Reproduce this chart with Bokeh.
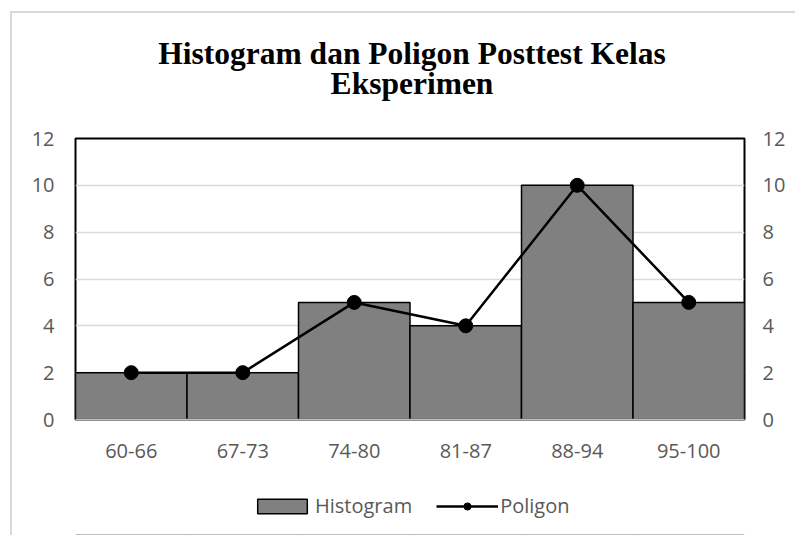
from bokeh.plotting import figure
from bokeh.layouts import column
from bokeh.models import (ColumnDataSource, LinearAxis, Range1d, Legend, Label,
                          LegendItem, FixedTicker, FactorRange)
from bokeh.embed import file_html
from bokeh.resources import INLINE

categories = ["60-66", "67-73", "74-80", "81-87", "88-94", "95-100"]
frequencies = [2, 2, 5, 4, 10, 5]
y_ticks = [0, 2, 4, 6, 8, 10, 12]
title_lines = ["Histogram dan Poligon Posttest Kelas", "Eksperimen"]
legend_labels = ["Histogram", "Poligon"]

src = ColumnDataSource(dict(cat=categories, freq=frequencies))

TICK_FONT = "Open Sans"
TICK_COLOR = "#595959"
BAR_FILL = "#808080"
FW = 669          # frame width shared by all blocks
BL, BR = 63, 51   # left / right borders shared by all blocks


def blank_block(height, x_range, y_range):
    f = figure(frame_width=FW, frame_height=height, x_range=x_range, y_range=y_range,
               output_backend="svg", toolbar_location=None,
               x_axis_type=None, y_axis_type=None,
               min_border_left=BL, min_border_right=BR,
               min_border_top=0, min_border_bottom=0)
    f.outline_line_color = None
    f.xgrid.visible = False
    f.ygrid.visible = False
    return f


# ---------------- title block ----------------
TH = 105
tf = blank_block(TH, Range1d(0, FW), Range1d(TH, 0))
for i, line in enumerate(title_lines):
    tf.add_layout(Label(x=336.5, y=40 + 29.5 * i, text=line, text_align="center",
                        text_baseline="alphabetic", text_font="Liberation Serif",
                        text_font_style="bold", text_font_size="31.5px",
                        text_color="black"))

# ---------------- main chart ----------------
p = figure(x_range=FactorRange(*categories), y_range=Range1d(0, 12),
           frame_width=FW, frame_height=281, output_backend="svg",
           toolbar_location=None,
           min_border_left=BL, min_border_right=BR, min_border_top=20,
           min_border_bottom=50)

p.vbar(x="cat", top="freq", width=1.0, source=src, fill_color=BAR_FILL,
       line_color="black", line_width=1.5)
p.line(x="cat", y="freq", source=src, line_color="black", line_width=2.5)
p.scatter(x="cat", y="freq", source=src, size=14, fill_color="black",
          line_color="black")

p.yaxis.ticker = FixedTicker(ticks=y_ticks)
p.yaxis.axis_line_color = None
p.yaxis.major_tick_line_color = None
p.yaxis.minor_tick_line_color = None
p.yaxis.major_tick_out = 0
p.yaxis.major_label_text_font = TICK_FONT
p.yaxis.major_label_text_font_size = "20px"
p.yaxis.major_label_text_color = TICK_COLOR
p.yaxis.major_label_standoff = 21

ry = LinearAxis(ticker=FixedTicker(ticks=y_ticks))
ry.axis_line_color = None
ry.major_tick_line_color = None
ry.minor_tick_line_color = None
ry.major_tick_out = 0
ry.major_label_text_font = TICK_FONT
ry.major_label_text_font_size = "20px"
ry.major_label_text_color = TICK_COLOR
ry.major_label_standoff = 18
p.add_layout(ry, "right")

p.xaxis.axis_line_color = "#bfbfbf"
p.xaxis.axis_line_width = 1.5
p.xaxis.major_tick_line_color = None
p.xaxis.minor_tick_line_color = None
p.xaxis.major_tick_out = 0
p.xaxis.major_label_text_font = TICK_FONT
p.xaxis.major_label_text_font_size = "20px"
p.xaxis.major_label_text_color = TICK_COLOR
p.xaxis.major_label_standoff = 24

p.xgrid.grid_line_color = None
p.ygrid.ticker = FixedTicker(ticks=y_ticks)
p.ygrid.grid_line_color = "#d9d9d9"
p.ygrid.grid_line_width = 1.5

p.outline_line_color = "black"
p.outline_line_width = 2
p.background_fill_color = "white"
p.border_fill_color = "white"

# ---------------- legend block ----------------
# the legend's sample renderers use the same data, kept out of this block's view
LH = 66
lf = blank_block(LH, FactorRange(*categories), Range1d(100, 101))
lg_bar = lf.vbar(x="cat", top="freq", width=1.0, source=src, fill_color=BAR_FILL,
                 line_color="black", line_width=1.5)
lg_line = lf.line(x="cat", y="freq", source=src, line_color="black", line_width=2.5)
lg_pts = lf.scatter(x="cat", y="freq", source=src, size=14, fill_color="black",
                    line_color="black")

legend = Legend(items=[LegendItem(label=legend_labels[0], renderers=[lg_bar]),
                       LegendItem(label=legend_labels[1], renderers=[lg_line, lg_pts])],
                orientation="horizontal", location=(176, 16))
legend.glyph_width = 62
legend.glyph_height = 18
legend.label_text_font = TICK_FONT
legend.label_text_font_size = "20px"
legend.label_text_color = TICK_COLOR
legend.label_standoff = 2
legend.spacing = 24
legend.border_line_color = None
legend.background_fill_alpha = 0
legend.padding = 0
legend.margin = 0
lf.add_layout(legend)

layout = column(tf, p, lf, spacing=0)
layout.margin = (11, 0, 0, 10)
layout.styles = {"border-top": "2px solid #d9d9d9", "border-left": "2px solid #d9d9d9",
                 "background": "white"}

open("out.html", "w").write(file_html(layout, INLINE))
